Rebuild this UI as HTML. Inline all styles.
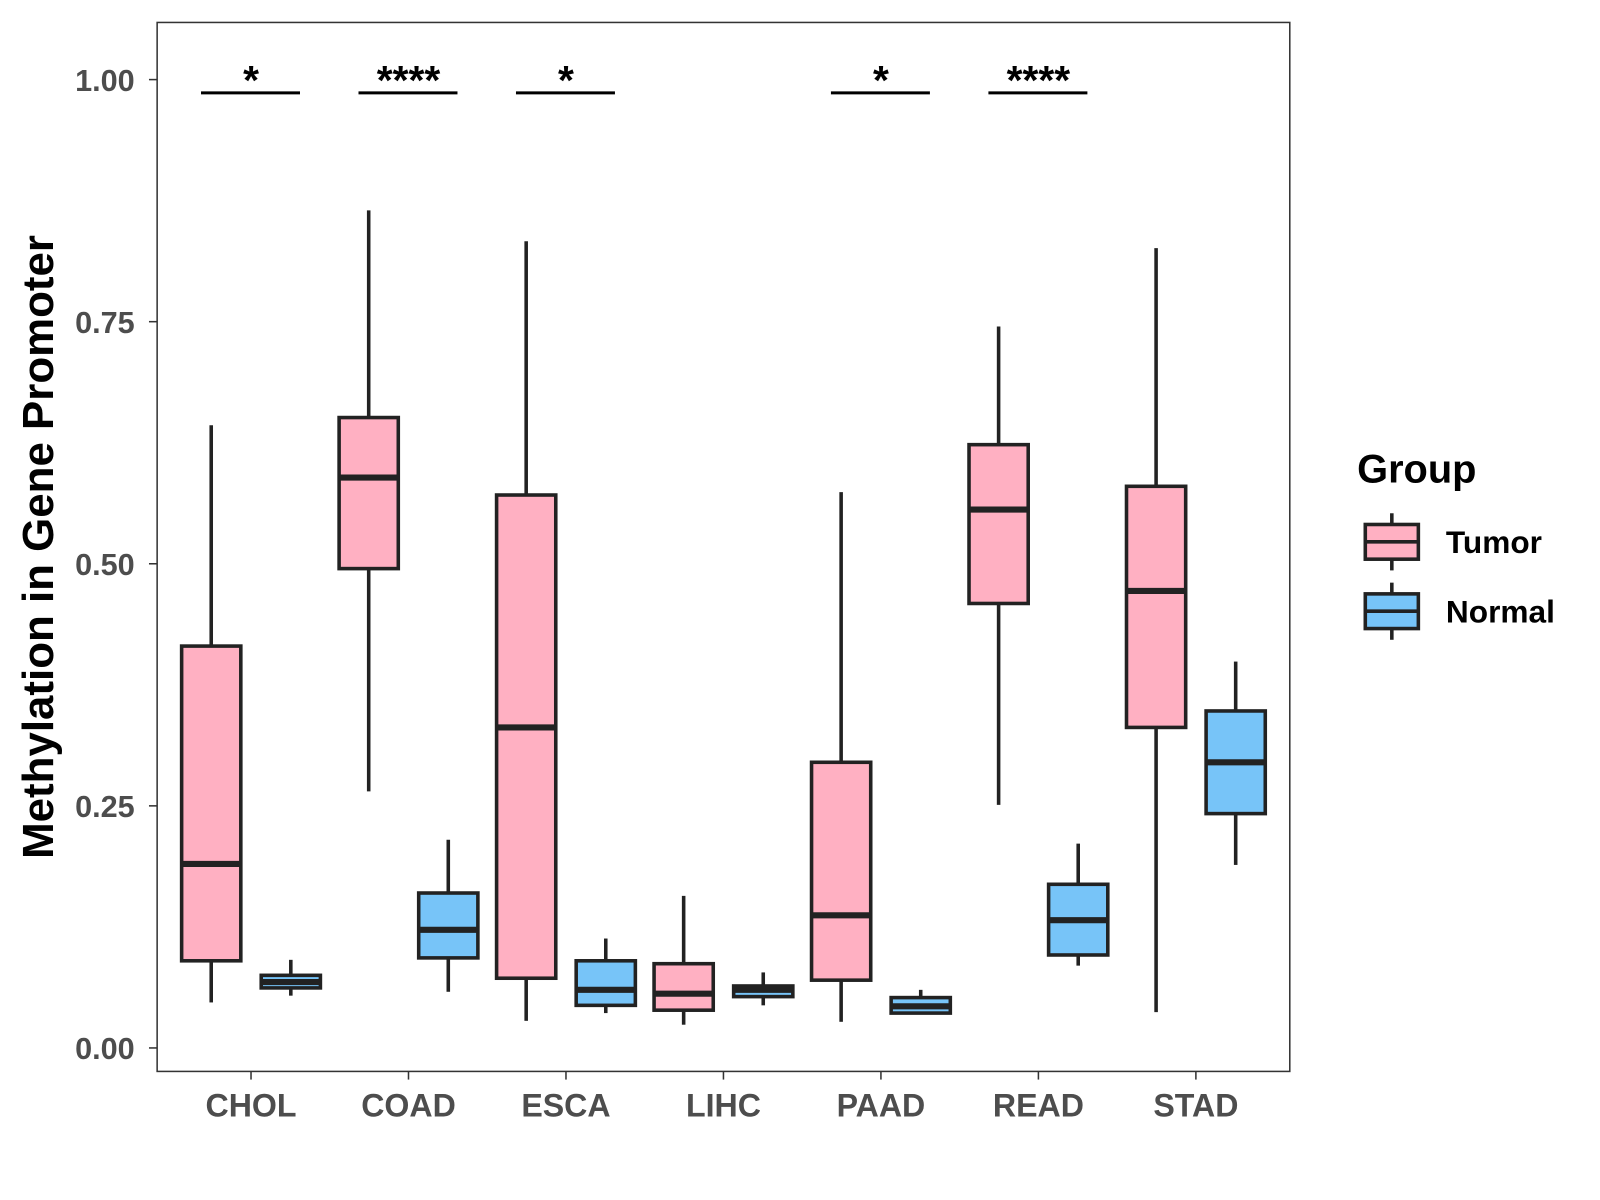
<!DOCTYPE html>
<html><head><meta charset="utf-8"><style>
html,body{margin:0;padding:0;background:#fff;width:1600px;height:1200px;overflow:hidden}
svg{font-family:"Liberation Sans",Arial,sans-serif}
</style></head><body>
<svg width="1600" height="1200"><g id="chart" transform="scale(1.0204)"></g></svg>
<script>
const categories=["CHOL","COAD","ESCA","LIHC","PAAD","READ","STAD"];
// [lower whisker, q1, median, q3, upper whisker]
const tumor=[[0.047,0.090,0.190,0.415,0.643],[0.265,0.495,0.589,0.651,0.865],[0.028,0.072,0.331,0.571,0.833],[0.024,0.039,0.056,0.087,0.157],[0.027,0.070,0.137,0.295,0.574],[0.251,0.459,0.556,0.623,0.745],[0.037,0.331,0.472,0.580,0.826]];
const normal=[[0.054,0.062,0.068,0.075,0.091],[0.058,0.093,0.122,0.160,0.215],[0.036,0.044,0.060,0.090,0.113],[0.044,0.053,0.060,0.064,0.078],[0.036,0.036,0.043,0.052,0.060],[0.085,0.096,0.132,0.169,0.211],[0.189,0.242,0.295,0.348,0.399]];
const sigLabels=["*","****","*","","*","****",""];
const yTicks=[0,0.25,0.5,0.75,1.0];
const yTickLabels=["0.00","0.25","0.50","0.75","1.00"];

const svg=document.getElementById('chart');
const NS="http://www.w3.org/2000/svg";
const L=154,R=1264,T=22,B=1050;
const y=v=>1027-v*949;
const x=i=>246+i*154.33;
function mk(tag,attrs,parent){const e=document.createElementNS(NS,tag);for(const k in attrs)e.setAttribute(k,attrs[k]);(parent||svg).appendChild(e);return e;}

const frame=mk('rect',{x:L,y:T,width:R-L,height:B-T,fill:'none',stroke:'#333','stroke-width':1.5});



yTicks.forEach((t,i)=>{
  const g=mk('g',{});
  
  
  mk('line',{x1:L-8,x2:L,y1:y(t),y2:y(t),stroke:'#333','stroke-width':1.5},g);
  const tx=mk('text',{x:L-22,y:y(t)+11,'text-anchor':'end','font-size':30,'font-weight':'bold',fill:'#4d4d4d'},g);
  tx.textContent=yTickLabels[i];
});
const yt=mk('text',{x:52,y:536,'text-anchor':'middle','font-size':43,'font-weight':'bold',fill:'#000',transform:'rotate(-90 52 536)'});
yt.textContent="Methylation in Gene Promoter";



function box(cx,d,fill,name){
  const g=mk('g',{});
  
  
  const w=58;
  mk('line',{x1:cx,x2:cx,y1:y(d[0]),y2:y(d[1]),stroke:'#222','stroke-width':3.5},g);
  mk('line',{x1:cx,x2:cx,y1:y(d[3]),y2:y(d[4]),stroke:'#222','stroke-width':3.5},g);
  mk('rect',{x:cx-w/2,y:y(d[3]),width:w,height:Math.max(1,y(d[1])-y(d[3])),fill:fill,stroke:'#222','stroke-width':3.5},g);
  mk('line',{x1:cx-w/2,x2:cx+w/2,y1:y(d[2]),y2:y(d[2]),stroke:'#222','stroke-width':6},g);
}
categories.forEach((c,i)=>{
  box(x(i)-39,tumor[i],'#FFB0C2','box-tumor-'+c.toLowerCase());
  box(x(i)+39,normal[i],'#77C4F8','box-normal-'+c.toLowerCase());
  const g=mk('g',{});
  
  
  mk('line',{x1:x(i),x2:x(i),y1:B,y2:B+8,stroke:'#333','stroke-width':1.5},g);
  const tx=mk('text',{x:x(i),y:B+44,'text-anchor':'middle','font-size':31.5,'font-weight':'bold',fill:'#4d4d4d'},g);
  tx.textContent=c;
  if(sigLabels[i]){
    const s=mk('g',{});
    
    
    mk('line',{x1:x(i)-49,x2:x(i)+48,y1:91,y2:91,stroke:'#000','stroke-width':3},s);
    const st=mk('text',{x:x(i),y:92,'text-anchor':'middle','font-size':40,'font-weight':'bold',fill:'#000'},s);
    st.textContent=sigLabels[i];
  }
});

const lg=mk('g',{});


const lt=mk('text',{x:1330,y:473,'font-size':39,'font-weight':'bold',fill:'#000'},lg);
lt.textContent="Group";
[['Tumor','#FFB0C2',531],['Normal','#77C4F8',599]].forEach(([n,f,cy])=>{
  const e=mk('g',{},lg);
  
  
  mk('line',{x1:1364,x2:1364,y1:cy-28,y2:cy+28,stroke:'#222','stroke-width':3.5},e);
  mk('rect',{x:1338,y:cy-17,width:52,height:34,fill:f,stroke:'#222','stroke-width':3.5},e);
  mk('line',{x1:1338,x2:1390,y1:cy,y2:cy,stroke:'#222','stroke-width':3.5},e);
  const t=mk('text',{x:1417,y:cy+11,'font-size':31,'font-weight':'bold',fill:'#000'},e);
  t.textContent=n;
});
</script>
</body></html>
